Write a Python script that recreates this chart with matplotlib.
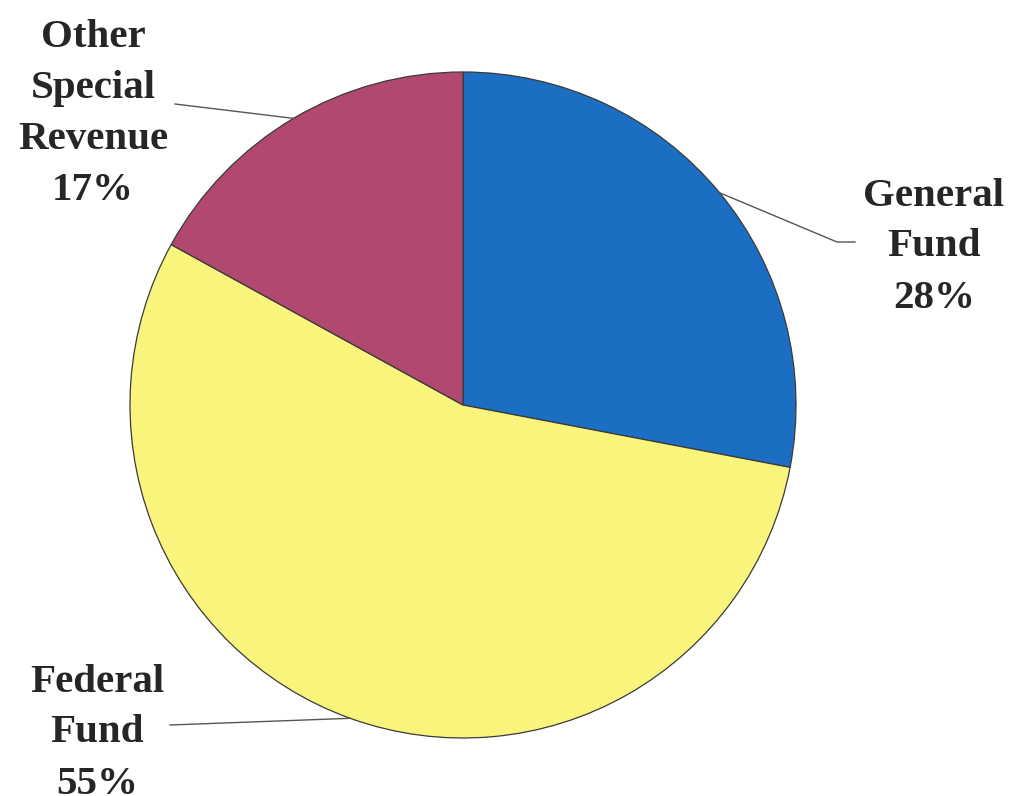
import numpy as np
import matplotlib.pyplot as plt

funds = ['General\nFund', 'Federal\nFund', 'Other\nSpecial\nRevenue']
shares = [28, 55, 17]
colors = ['#1b6ec2', '#f8f47c', '#b0486f']

# label block centres and leader-line bends, in pixel space (y from bottom)
label_pos = [(934, 549), (97, 63), (93, 682)]
leader_pts = [[(837, 554), (855, 554)], [(170, 71)], [(175, 692)]]

W, H = 1013, 796
fig = plt.figure(figsize=(W / 100, H / 100), dpi=100)
ax = fig.add_axes([0, 0, 1, 1])

cx, cy, r = 463, 391, 333
wedges, _ = ax.pie(shares, colors=colors, startangle=90, counterclock=False,
                   center=(cx, cy), radius=r,
                   wedgeprops=dict(edgecolor='#3a3a3a', linewidth=0.9))

for w, name, share, pos, pts in zip(wedges, funds, shares, label_pos, leader_pts):
    mid = np.deg2rad((w.theta1 + w.theta2) / 2)
    start = (cx + r * np.cos(mid), cy + r * np.sin(mid))
    xs = [start[0]] + [p[0] for p in pts]
    ys = [start[1]] + [p[1] for p in pts]
    ax.plot(xs, ys, color='#555555', lw=1.0)
    ax.text(pos[0], pos[1], f'{name}\n{share}%', ha='center', va='center',
            fontsize=29.5, fontweight='bold', family='Liberation Serif',
            color='#262626', linespacing=1.5)

ax.set_xlim(0, W)
ax.set_ylim(0, H)
ax.set_aspect('equal')
ax.set_axis_off()
fig.savefig('out.png', dpi=100)
